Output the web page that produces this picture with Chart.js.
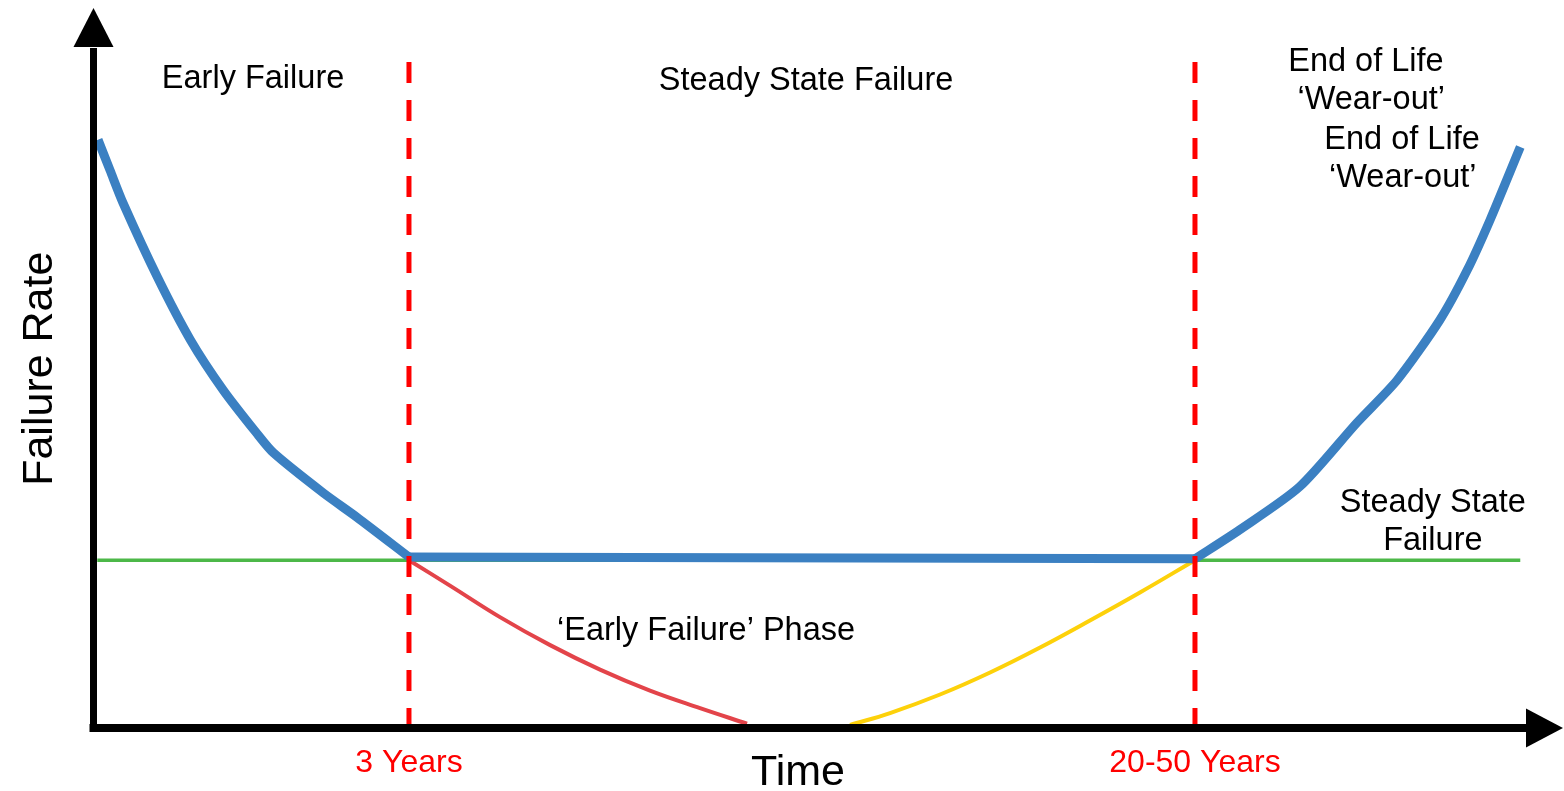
<!DOCTYPE html>
<html>
<head>
<meta charset="utf-8">
<title>Failure Rate vs Time</title>
<script src="https://cdn.jsdelivr.net/npm/chart.js"></script>
<style>
  html, body { margin: 0; padding: 0; background: #fff; }
  #wrap { width: 1564px; height: 791px; }
</style>
</head>
<body>
<div id="wrap"><canvas id="bathtub" width="1564" height="791"></canvas></div>
<script>
  // time and failure rate are both in arbitrary units (0..100)
  // the blue "bathtub" curve
  const bathtubTime = [0.35, 1.2, 2.1, 4.5, 6.8, 9.1, 11.4, 12.6, 16.1, 18.4, 22.05, 76.9, 80.0, 84.2, 88.2, 91.0, 94.0, 95.9, 97.5, 99.6];
  const bathtubRate = [81.7, 77.4, 72.9, 62.6, 53.9, 46.9, 41.0, 38.2, 32.6, 29.3, 23.75, 23.5, 27.5, 33.5, 42.4, 48.3, 56.7, 63.6, 70.6, 80.7];

  // red curve: early failures dying away
  const earlyTime = [22.05, 24.91, 28.4, 31.9, 35.38, 38.87, 42.36, 45.64];
  const earlyRate = [23.3, 19.78, 15.4, 11.51, 8.11, 5.19, 2.76, 0.6];

  // yellow curve: wear-out failures building up
  const wearTime = [52.83, 55.62, 59.11, 62.6, 66.09, 69.57, 73.06, 76.9];
  const wearRate = [0.42, 2.08, 4.65, 7.71, 11.18, 14.93, 18.82, 23.3];

  // green line: steady state failure rate
  const steadyTime = [0.3, 99.6];
  const steadyRate = [23.3, 23.3];

  // dashed boundaries and their labels
  const boundaryTimes = [22.05, 76.9];
  const tickLabels = ["3 Years", "20-50 Years"];
  const boundaryTop = 92.5;

  const axisTitles = ["Time", "Failure Rate"];
  const phaseLabels = ["Early Failure", "Steady State Failure", "‘Early Failure’ Phase"];
  const wearLabels = [["End of Life", "‘Wear-out’"], ["End of Life", "‘Wear-out’"]];
  const steadyLabel = ["Steady State", "Failure"];

  function toPoints(xs, ys) {
    return xs.map((t, i) => ({ x: t, y: ys[i] }));
  }

  // the bathtub has sharp corners at the two boundaries, so it is drawn in three pieces
  const bathtubPoints = toPoints(bathtubTime, bathtubRate);
  const cornerA = bathtubTime.indexOf(boundaryTimes[0]);
  const cornerB = bathtubTime.indexOf(boundaryTimes[1]);

  const FONT = '"Liberation Sans", Arial, sans-serif';
  const BLUE = "#3b80c2";

  // axes with arrow heads + all the text
  const drawingPlugin = {
    id: "bathtubDrawing",
    afterDatasetsDraw(chart) {
      const { ctx, chartArea } = chart;
      const x = chart.scales.x;
      const y = chart.scales.y;
      const ox = x.getPixelForValue(0) + 0.5;
      const oy = y.getPixelForValue(0);

      ctx.save();
      ctx.strokeStyle = "#000";
      ctx.fillStyle = "#000";

      // y axis
      ctx.lineWidth = 7;
      ctx.beginPath();
      ctx.moveTo(ox, oy + 4);
      ctx.lineTo(ox, chartArea.top + 40);
      ctx.stroke();
      ctx.beginPath();
      ctx.moveTo(ox - 20, chartArea.top + 39);
      ctx.lineTo(ox, chartArea.top);
      ctx.lineTo(ox + 20, chartArea.top + 39);
      ctx.closePath();
      ctx.fill();

      // x axis
      ctx.lineWidth = 8;
      ctx.beginPath();
      ctx.moveTo(ox - 4, oy);
      ctx.lineTo(chartArea.right + 2, oy);
      ctx.stroke();
      ctx.beginPath();
      ctx.moveTo(chartArea.right, oy - 19.5);
      ctx.lineTo(chartArea.right + 37, oy);
      ctx.lineTo(chartArea.right, oy + 19.5);
      ctx.closePath();
      ctx.fill();

      ctx.textAlign = "center";
      ctx.textBaseline = "alphabetic";

      function label(text, tx, ty, size, color) {
        ctx.font = size + "px " + FONT;
        ctx.fillStyle = color || "#000";
        ctx.fillText(text, x.getPixelForValue(tx), y.getPixelForValue(ty));
      }

      // phase labels
      label(phaseLabels[0], 11.17, 88.9, 32.5);
      label(phaseLabels[1], 49.76, 88.6, 32.5);
      label(phaseLabels[2], 42.78, 12.2, 32.5);

      label(wearLabels[0][0], 88.83, 91.3, 32.5);
      label(wearLabels[0][1], 89.2, 86.0, 32.5);
      label(wearLabels[1][0], 91.35, 80.4, 32.5);
      label(wearLabels[1][1], 91.4, 75.1, 32.5);

      label(steadyLabel[0], 93.5, 30.0, 32.5);
      label(steadyLabel[1], 93.5, 24.7, 32.5);

      // boundary tick labels
      boundaryTimes.forEach((t, i) => label(tickLabels[i], t, -6.07, 32, "#ff0000"));

      // axis titles
      label(axisTitles[0], 49.2, -7.9, 43);
      ctx.save();
      ctx.translate(x.getPixelForValue(-2.86), y.getPixelForValue(49.9));
      ctx.rotate(-Math.PI / 2);
      ctx.font = "43px " + FONT;
      ctx.fillStyle = "#000";
      ctx.fillText(axisTitles[1], 0, 0);
      ctx.restore();

      ctx.restore();
    }
  };

  const ctx = document.getElementById("bathtub").getContext("2d");

  const dashed = boundaryTimes.map((t) => ({
    data: [{ x: t, y: boundaryTop }, { x: t, y: 0 }],
    borderColor: "#ff0000",
    borderWidth: 5,
    borderDash: [21, 17],
    order: 0,
  }));

  new Chart(ctx, {
    type: "scatter",
    data: {
      datasets: [
        ...dashed,
        {
          label: "Failure rate (early)",
          data: bathtubPoints.slice(0, cornerA + 1),
          borderColor: BLUE,
          borderWidth: 9,
          tension: 0.25,
          order: 1,
        },
        {
          label: "Failure rate (steady)",
          data: bathtubPoints.slice(cornerA, cornerB + 1),
          borderColor: BLUE,
          borderWidth: 9,
          order: 1,
        },
        {
          label: "Failure rate (wear-out)",
          data: bathtubPoints.slice(cornerB),
          borderColor: BLUE,
          borderWidth: 9,
          tension: 0.25,
          order: 1,
        },
        {
          label: "Wear-out",
          data: toPoints(wearTime, wearRate),
          borderColor: "#fdd10a",
          borderWidth: 4,
          tension: 0.4,
          order: 2,
        },
        {
          label: "Early failure",
          data: toPoints(earlyTime, earlyRate),
          borderColor: "#e3444a",
          borderWidth: 4,
          tension: 0.4,
          order: 3,
        },
        {
          label: "Steady state",
          data: toPoints(steadyTime, steadyRate),
          borderColor: "#4cb848",
          borderWidth: 3.5,
          order: 4,
        },
      ],
    },
    options: {
      responsive: false,
      animation: false,
      showLine: true,
      clip: false,
      elements: { point: { radius: 0, hoverRadius: 0 }, line: { borderJoinStyle: "round" } },
      layout: { padding: { left: 93, right: 38, top: 8, bottom: 63 } },
      plugins: { legend: { display: false }, tooltip: { enabled: false } },
      scales: {
        x: { type: "linear", min: 0, max: 100, display: false },
        y: { type: "linear", min: 0, max: 100, display: false },
      },
    },
    plugins: [drawingPlugin],
  });
</script>
</body>
</html>
